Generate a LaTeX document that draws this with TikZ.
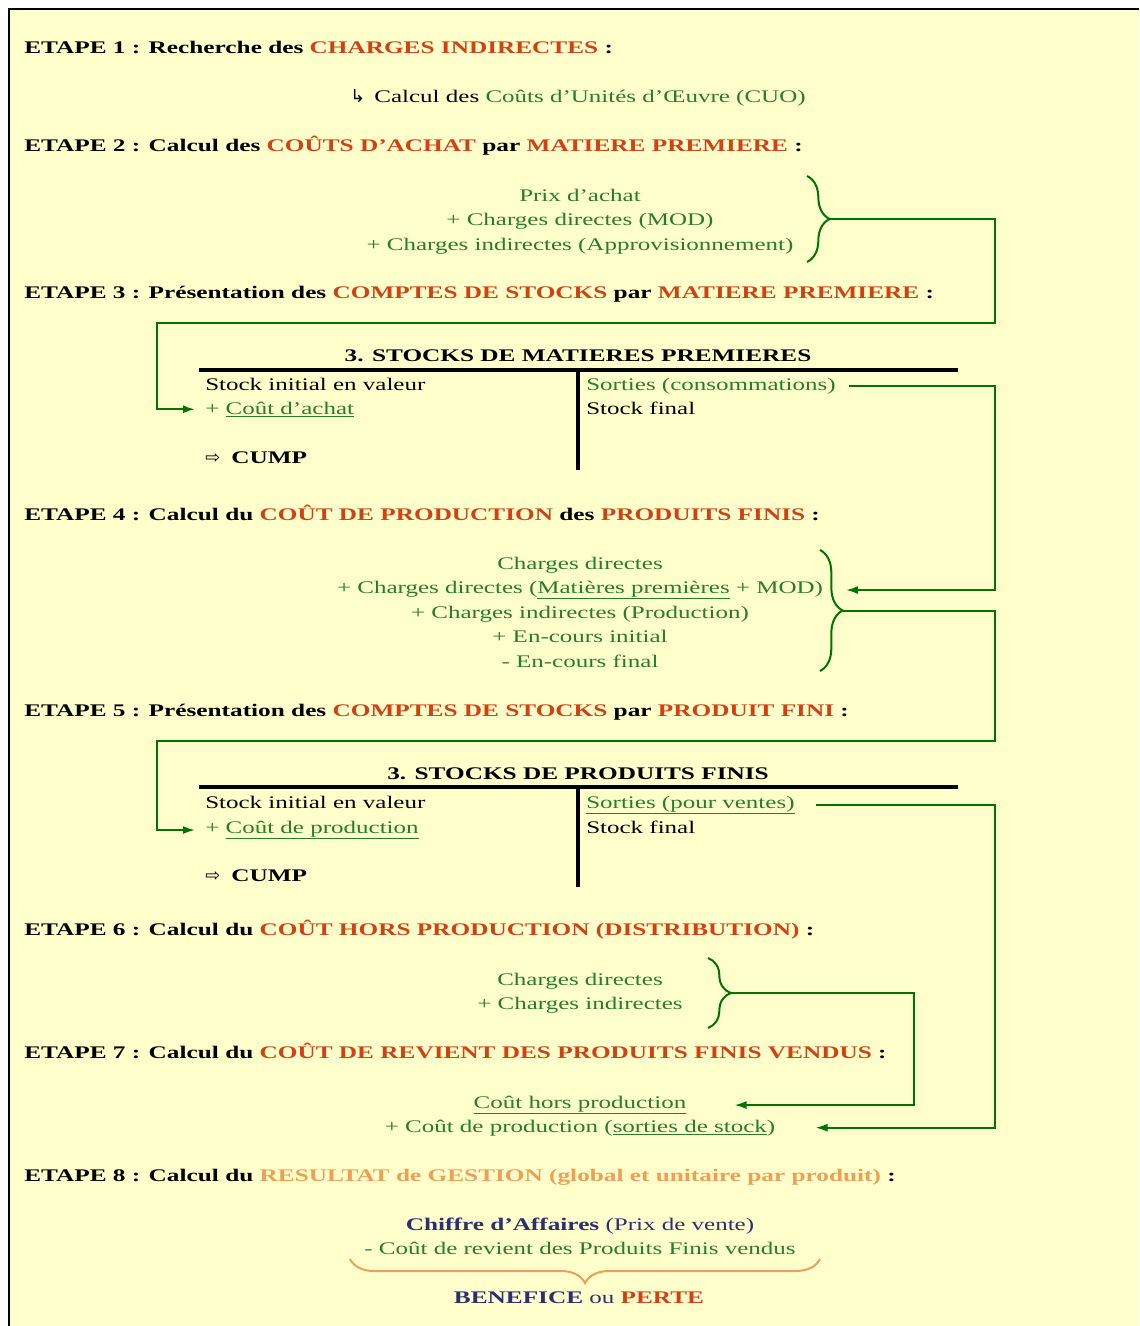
\documentclass[tikz,border=0pt]{standalone}
\usepackage{fontspec}
\setmainfont{Liberation Serif}[FakeStretch=1.41,BoldFeatures={FakeStretch=1.425}]
\newfontfamily\symb{DejaVu Sans}
\usetikzlibrary{decorations.pathreplacing,arrows.meta}

\definecolor{fond}{RGB}{255,255,204}
\definecolor{rougeet}{RGB}{210,65,20}
\definecolor{vertt}{RGB}{40,125,40}
\definecolor{vertl}{RGB}{0,115,0}
\definecolor{orclair}{RGB}{235,160,85}
\definecolor{bleunuit}{RGB}{45,45,120}

\newcommand{\taille}{\fontsize{13.3}{16}\selectfont}
\newcommand{\enrouge}[1]{\textcolor{rougeet}{#1}}
\newcommand{\envert}[1]{\textcolor{vertt}{#1}}
\newcommand{\enorange}[1]{\textcolor{orclair}{#1}}
\newcommand{\enbleu}[1]{\textcolor{bleunuit}{#1}}

\begin{document}
\begin{tikzpicture}[x=0.75pt,y=-0.75pt]
% estilos de texto y lineas
\tikzstyle{etape}=[anchor=base west,inner sep=0pt,font=\taille\bfseries]
\tikzstyle{ligne}=[anchor=base,inner sep=0pt,font=\taille,text=vertt]
\tikzstyle{gauche}=[anchor=base west,inner sep=0pt,font=\taille]
\tikzstyle{titre}=[anchor=base,inner sep=0pt,font=\taille\bfseries]
\tikzstyle{trait}=[line width=3pt]
\tikzstyle{flux}=[vertl,line width=1.5pt,-{Latex[length=9pt,width=6pt]}]
\tikzstyle{acco}=[vertl,line width=1.5pt,decorate,decoration={brace,amplitude=17pt}]
\tikzstyle{accor}=[orclair,line width=1.5pt,decorate,decoration={brace,amplitude=18pt}]
% titre d'etape
% #1: nom du noeud
% #2: ordonnee de la ligne de base
% #3: texte de l'etape
\newcommand{\etape}[3]{
\node[etape] (#1) at (24,#2) {#3};
}
% accolade verticale
% #1: nom de la pointe
% #2: abscisse
% #3: ordonnee haute
% #4: ordonnee basse
\newcommand{\accol}[4]{
\draw[acco] (#2,#3) -- (#2,#4);
\coordinate (#1) at ({#2+23},{(#3+#4)/2});
}
% compte en T
% #1: nom du titre
% #2: ordonnee du trait horizontal
% #3: titre du compte
\newcommand{\compteT}[3]{
\node[titre] (#1) at (578,{#2-8}) {#3};
\draw[trait] (199,#2) -- (958,#2);
\draw[trait] (578,#2) -- (578,{#2+100});
}
% fond et cadre
\useasboundingbox (0,0) rectangle (1139,1326);
\fill[white] (0,0) rectangle (1139,1326);
\fill[fond] (9,9) rectangle (1139,1326);
\draw[line width=1.5pt] (9,1326) -- (9,9) -- (1139,9);
\coordinate (rail) at (995,0);
% etapes 1 et 2
\etape{e1}{54}{ETAPE 1 : Recherche des \enrouge{CHARGES INDIRECTES} :}
\node[ligne,text=black] (cuo) at (578,103) {{\symb ↳}\, Calcul des \envert{Coûts d'Unités d'Œuvre (CUO)}};
\etape{e2}{152}{ETAPE 2 : Calcul des \enrouge{COÛTS D'ACHAT} par \enrouge{MATIERE PREMIERE} :}
\node[ligne] (pa) at (580,202) {Prix d'achat};
\node[ligne] (mod) at (580,226) {+ Charges directes (MOD)};
\node[ligne] (appro) at (580,251) {+ Charges indirectes (Approvisionnement)};
\accol{acc1}{807}{176}{262}
% etape 3
\etape{e3}{299}{ETAPE 3 : Présentation des \enrouge{COMPTES DE STOCKS} par \enrouge{MATIERE PREMIERE} :}
\compteT{t1}{370}{3. STOCKS DE MATIERES PREMIERES}
\node[gauche] (si1) at (205,390) {Stock initial en valeur};
\node[gauche] (ca1) at (205,414) {\envert{+ \underline{Coût d'achat}}};
\node[gauche] (cu1) at (205,463) {{\symb ⇨}\; \textbf{CUMP}};
\node[gauche,text=vertt] (so1) at (586,390) {Sorties (consommations)};
\node[gauche] (sf1) at (586,414) {Stock final};
% etape 4
\etape{e4}{520}{ETAPE 4 : Calcul du \enrouge{COÛT DE PRODUCTION} des \enrouge{PRODUITS FINIS} :}
\node[ligne] (cd) at (580,569) {Charges directes};
\node[ligne] (cdm) at (580,593) {+ Charges directes (\underline{Matières premières} + MOD)};
\node[ligne] (cip) at (580,618) {+ Charges indirectes (Production)};
\node[ligne] (eci) at (580,642) {+ En-cours initial};
\node[ligne] (ecf) at (580,667) {- En-cours final};
\accol{acc2}{820}{550}{671}
% etape 5
\etape{e5}{716}{ETAPE 5 : Présentation des \enrouge{COMPTES DE STOCKS} par \enrouge{PRODUIT FINI} :}
\compteT{t2}{787}{3. STOCKS DE PRODUITS FINIS}
\node[gauche] (si2) at (205,808) {Stock initial en valeur};
\node[gauche] (cp1) at (205,833) {\envert{+ \underline{Coût de production}}};
\node[gauche] (cu2) at (205,881) {{\symb ⇨}\; \textbf{CUMP}};
\node[gauche] (so2) at (586,808) {\envert{\underline{Sorties (pour ventes)}}};
\node[gauche] (sf2) at (586,833) {Stock final};
% etapes 6 et 7
\etape{e6}{935}{ETAPE 6 : Calcul du \enrouge{COÛT HORS PRODUCTION (DISTRIBUTION)} :}
\node[ligne] (cd6) at (580,985) {Charges directes};
\node[ligne] (ci6) at (580,1009) {+ Charges indirectes};
\accol{acc3}{708}{958}{1028}
\etape{e7}{1058}{ETAPE 7 : Calcul du \enrouge{COÛT DE REVIENT DES PRODUITS FINIS VENDUS} :}
\node[ligne] (chp) at (580,1108) {\underline{Coût hors production}};
\node[ligne] (cps) at (580,1132) {+ Coût de production (\underline{sorties de stock})};
% etape 8
\etape{e8}{1181}{ETAPE 8 : Calcul du \enorange{RESULTAT de GESTION (global et unitaire par produit)} :}
\node[ligne,text=bleunuit] (caff) at (580,1230) {\textbf{Chiffre d'Affaires} (Prix de vente)};
\node[ligne] (crev) at (580,1254) {- Coût de revient des Produits Finis vendus};
\draw[accor] (820,1259) -- (350,1259);
\node[ligne,text=bleunuit] (ben) at (579,1303) {\textbf{BENEFICE} ou \textbf{\enrouge{PERTE}}};
% dibujar flujos
\draw[flux] (acc1) -- (acc1 -| rail) -- ++(0,104) -| ([xshift=-36pt]ca1.west) -- ([xshift=-7.5pt]ca1.west);
\draw[flux] ([xshift=10pt]so1.east) -- (so1.east -| rail) |- ([xshift=17pt]cdm.east);
\draw[flux] (acc2) -- (acc2 -| rail) -- ++(0,130) -| ([xshift=-36pt]cp1.west) -- ([xshift=-7.5pt]cp1.west);
\draw[flux] ([xshift=16pt]so2.east) -- (so2.east -| rail) |- ([xshift=30pt]cps.east);
\draw[flux] (acc3) -- ++(183,0) |- ([xshift=36pt]chp.east);
\end{tikzpicture}
\end{document}
